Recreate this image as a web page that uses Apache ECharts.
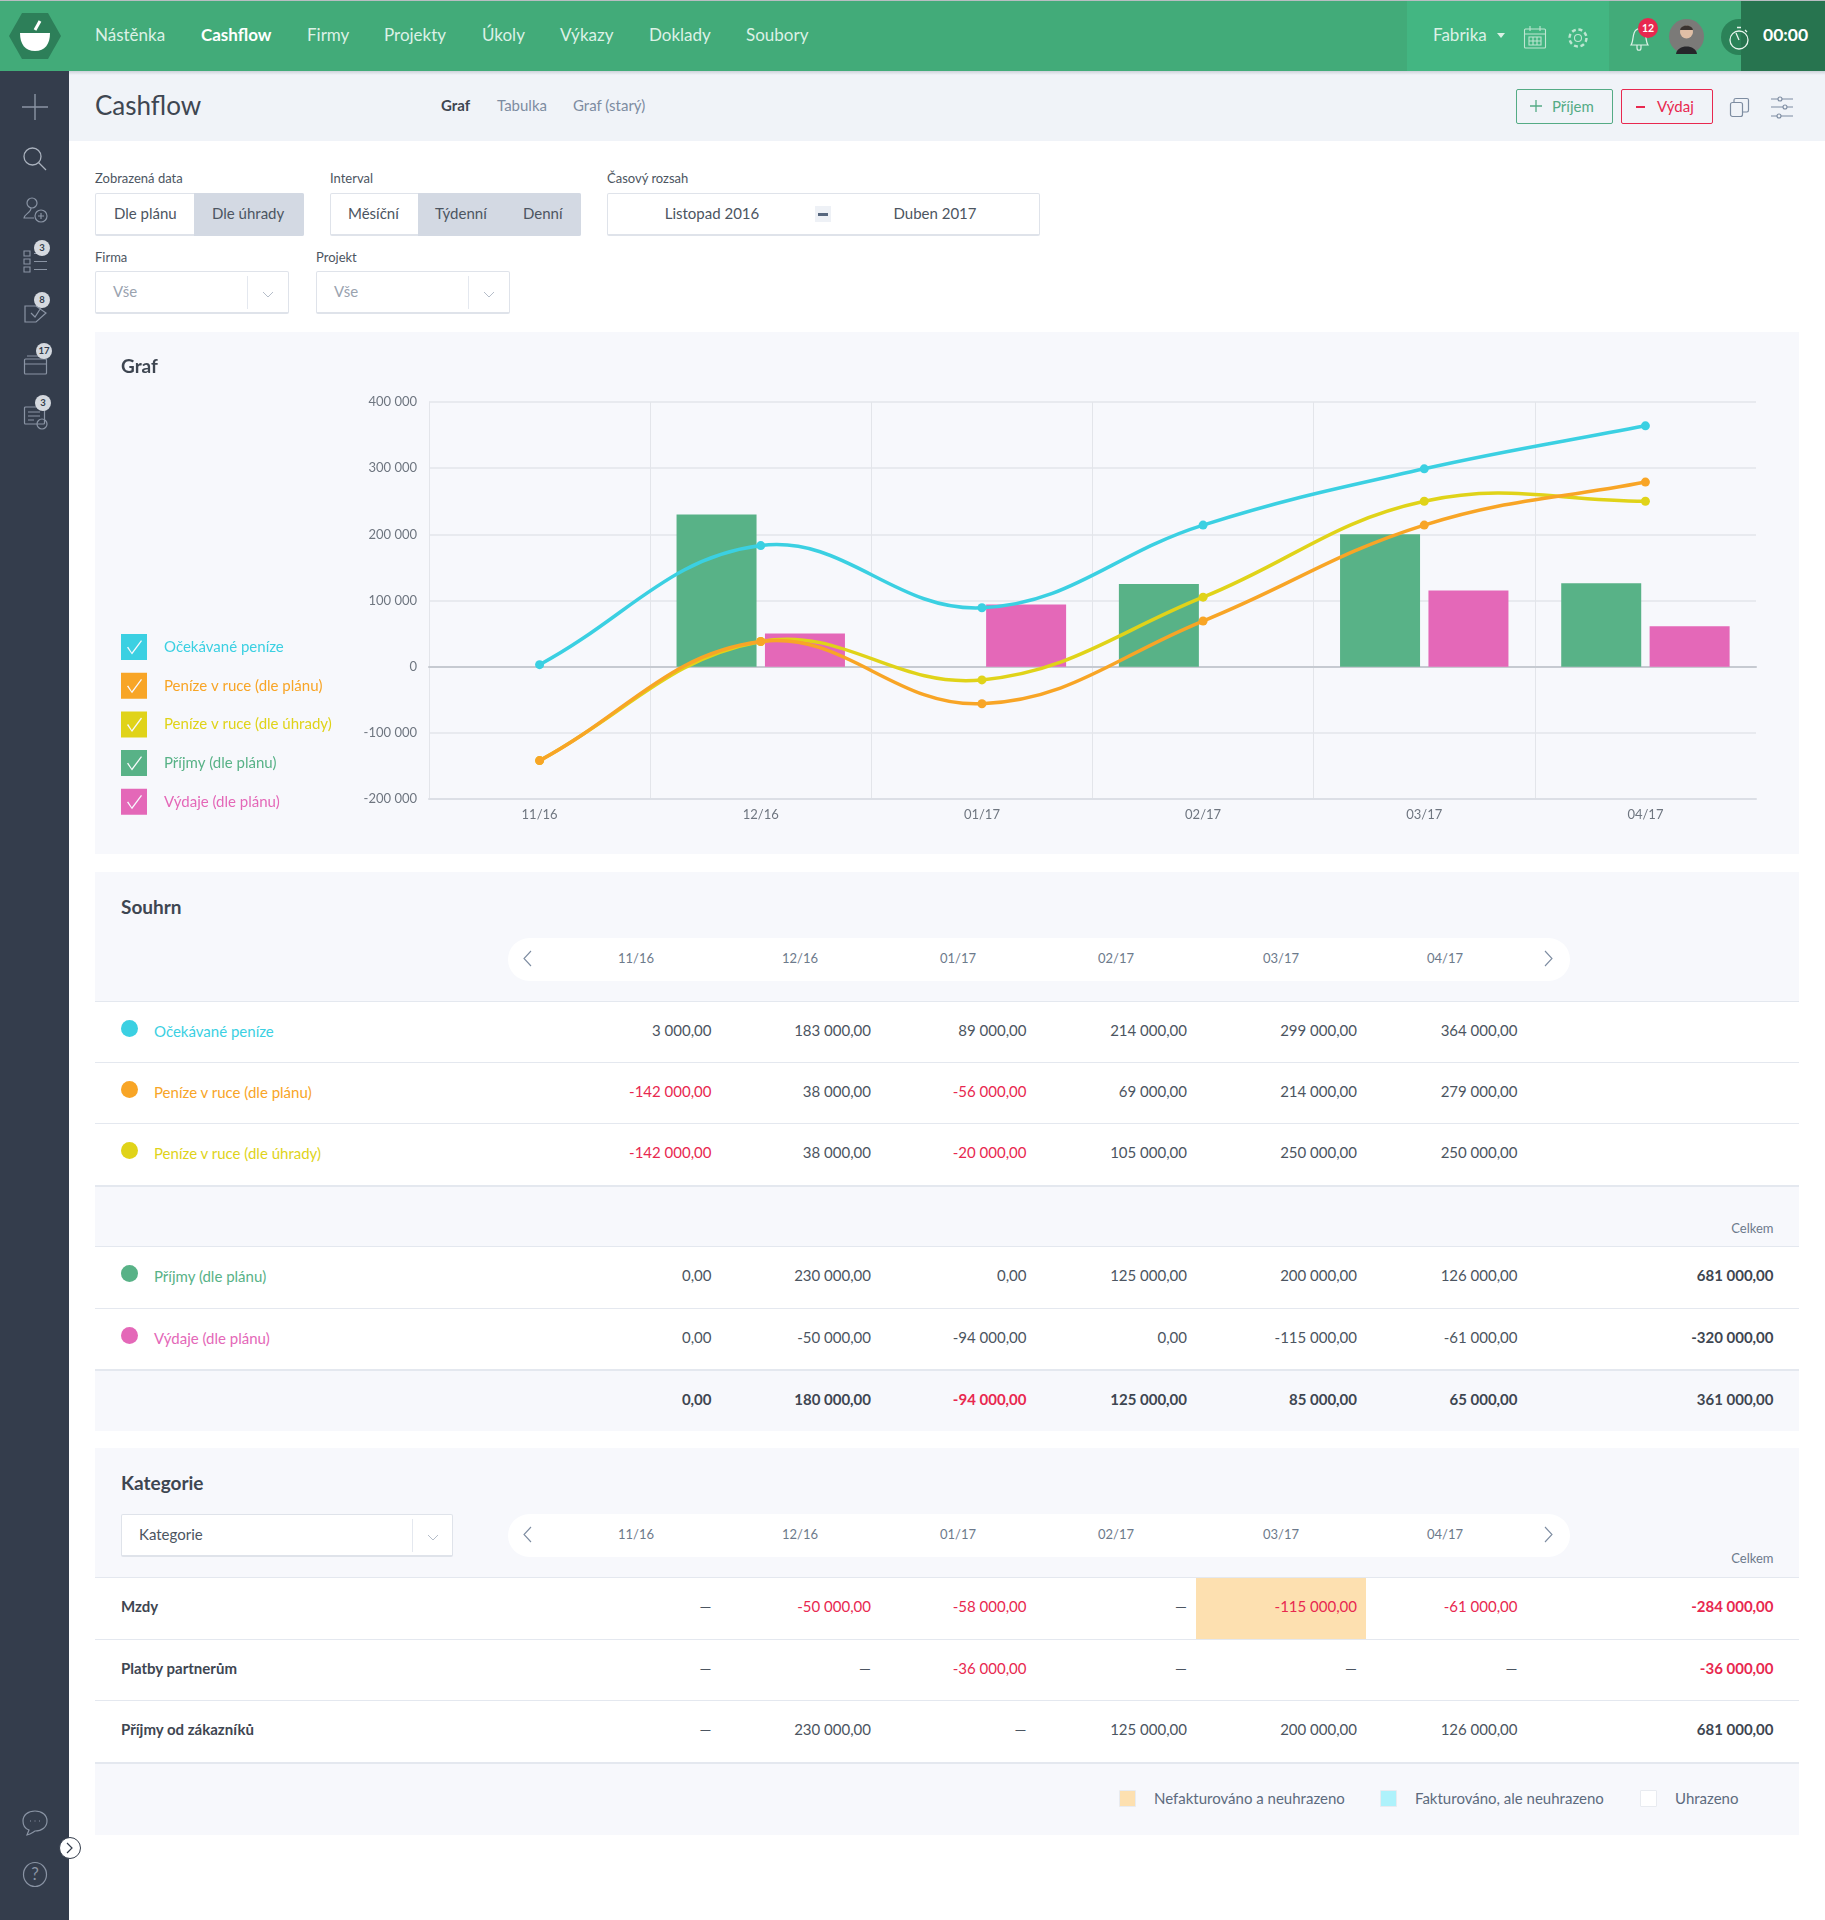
<!DOCTYPE html>
<html lang="cs">
<head>
<meta charset="utf-8">
<title>Cashflow</title>
<script src="https://cdn.jsdelivr.net/npm/echarts@6/dist/echarts.min.js"></script>
<style>
html, body { margin: 0; padding: 0; background: #fff; }
body { width: 1825px; height: 1920px; position: relative; overflow: hidden; font-family: Lato, sans-serif; color: #4c5561; }
.box { position: absolute; box-sizing: border-box; }
.t { position: absolute; white-space: nowrap; line-height: 24px; height: 24px; }
svg { position: absolute; overflow: visible; fill: none; }
#wave-chart { position: absolute; left: 95px; top: 332px; width: 1704px; height: 522px; }
</style>
</head>
<body>
<div id="wave-chart"></div>
<script>
const months = ['11/16', '12/16', '01/17', '02/17', '03/17', '04/17'];
const yTicks = [-200000, 400000, 100000];

const ocekavane = [3000, 183000, 89000, 214000, 299000, 364000];
const penizePlan = [-142000, 38000, -56000, 69000, 214000, 279000];
const penizeUhrada = [-142000, 38000, -20000, 105000, 250000, 250000];
const prijmy = [0, 230000, 0, 125000, 200000, 126000];
const vydaje = [0, -50000, -94000, 0, -115000, -61000];
const soucet = [0, 180000, -94000, 125000, 85000, 65000];
const celkemSouhrn = [681000, -320000, 361000];

const mzdy = [null, -50000, -58000, null, -115000, -61000];
const platby = [null, null, -36000, null, null, null];
const prijmyZakaznici = [null, 230000, null, 125000, 200000, 126000];
const celkemKategorie = [-284000, -36000, 681000];

const names = ['Očekávané peníze', 'Peníze v ruce (dle plánu)', 'Peníze v ruce (dle úhrady)', 'Příjmy (dle plánu)', 'Výdaje (dle plánu)'];
const colors = ['#3bd0e2', '#f8a526', '#e0d319', '#58b287', '#e468b8'];

const RED = '#e8284f', DARK = '#3e4651', GREY = '#4c5561', MUTED = '#6d7a8c', PANEL = '#f7f8fc', LINE = '#e4e8ef';
const FS = 15;

// page furniture helpers
function box(x, y, w, h, css) {
  const d = document.createElement('div');
  d.className = 'box';
  d.style.cssText = `left:${x}px;top:${y}px;width:${w}px;height:${h}px;${css || ''}`;
  document.body.appendChild(d);
  return d;
}
function txt(x, yc, s, size, color, opt) {
  opt = opt || {};
  const d = document.createElement('div');
  d.className = 't';
  d.textContent = s;
  const pos = opt.right ? `right:${1825 - x}px` : opt.center ? `left:${x}px;transform:translateX(-50%)` : `left:${x}px`;
  d.style.cssText = `${pos};top:${yc - 12}px;font-size:${size}px;color:${color};font-weight:${opt.weight || 400}`;
  document.body.appendChild(d);
  return d;
}
function icon(x, y, w, h, inner, stroke, sw) {
  const wrap = document.createElement('div');
  wrap.innerHTML = `<svg style="left:${x}px;top:${y}px" width="${w}" height="${h}" viewBox="0 0 ${w} ${h}" stroke="${stroke}" stroke-width="${sw || 1.3}">${inner}</svg>`;
  document.body.appendChild(wrap.firstChild);
}
function badge(cx, cy, s, bg, color) {
  box(cx - 8, cy - 8, 16, 16, `border-radius:50%;background:${bg}`);
  txt(cx, cy, s, 9.5, color, { center: true, weight: 700 });
}

// top bar and side bar
box(0, 71, 1825, 5, 'background:linear-gradient(#c4c9d2,#f0f3f8)');
box(69, 71, 1756, 70, 'background:#f0f3f8');
box(69, 71, 1756, 4, 'background:linear-gradient(#cdd2da,#f0f3f8)');
box(0, 71, 69, 1849, 'background:#343d4c');
box(0, 1, 1825, 70, 'background:#42ab79');
box(0, 0, 1825, 1, 'background:#b9bdc2');
box(1407, 1, 202, 70, 'background:#43b682');
box(1721, 19, 40, 36, 'background:#2b8258;border-radius:18px');
box(1741, 1, 84, 70, 'background:#27744f');

icon(9, 13, 52, 46, '<path d="M13 0H39L52 23L39 46H13L0 23Z" fill="#2d7f59" stroke="none"/><path d="M11 20H41C41 31 36 38 26 38C16 38 11 31 11 20Z" fill="#fff" stroke="none"/><path d="M26 17L31 8" stroke="#fff" stroke-width="3"/>', 'none');

const navItems = [['Nástěnka', 95], ['Cashflow', 201], ['Firmy', 307], ['Projekty', 384], ['Úkoly', 482], ['Výkazy', 560], ['Doklady', 649], ['Soubory', 746]];
navItems.forEach(n => txt(n[1], 35, n[0], 17, n[0] === 'Cashflow' ? '#fff' : '#dcf1e6', { weight: n[0] === 'Cashflow' ? 700 : 400 }));
txt(1433, 35, 'Fabrika', 17, '#dcf1e6');
icon(1497, 33, 8, 5, '<path d="M0 0H8L4 5Z" fill="#dcf1e6" stroke="none"/>', 'none');
icon(1524, 26, 22, 23, '<rect x="0.5" y="3" width="21" height="19" rx="1"/><path d="M0.5 8H21.5M6 0V5M16 0V5M5 11H17V19H5ZM9 11V19M13 11V19M5 15H17"/>', '#bfe6d2', 1.1);
icon(1567, 27, 22, 22, '<circle cx="11" cy="11" r="3.5"/><circle cx="11" cy="11" r="8.5" stroke-dasharray="4 2.7" stroke-width="2.4"/>', '#bfe6d2', 1.1);
icon(1628, 26, 22, 26, '<path d="M3 19C6 15 4 7 8 4C10 2 13 2 15 4C19 7 17 15 20 19ZM9 19V22C9 25 13 25 13 22V19"/>', '#dcf1e6', 1.2);
box(1638, 18, 20, 20, `border-radius:50%;background:${RED}`);
txt(1648, 28, '12', 10.5, '#fff', { center: true, weight: 700 });
icon(1669, 19, 35, 35, '<ellipse cx="17.5" cy="17.5" rx="17.5" ry="17.5" fill="#7b7a78" stroke="none"/><circle cx="17.5" cy="13" r="6.5" fill="#e0bfa6" stroke="none"/><path d="M7 35C8 25 27 25 28 35Z" fill="#26262a" stroke="none"/><path d="M11 11C12 5 23 5 24 11Z" fill="#3a3330" stroke="none"/>', 'none');
icon(1729, 26, 20, 24, '<circle cx="10" cy="14" r="9"/><path d="M10 14L7 7M8 1.5H12M16 4L18 6"/>', '#e6f4ec', 1.3);
txt(1763, 35, '00:00', 17.5, '#fff', { weight: 700 });

icon(22, 94, 26, 26, '<path d="M13 0V26M0 13H26"/>', '#8a94a4', 1.4);
icon(23, 147, 24, 24, '<circle cx="9.5" cy="9.5" r="8.5"/><path d="M15.5 15.5L23 23"/>', '#aab2be', 1.3);
icon(23, 197, 25, 26, '<circle cx="9" cy="6" r="5"/><path d="M8 11C8 16 1 17 1 21H11"/><circle cx="18" cy="19" r="6"/><path d="M18 16V22M15 19H21"/>', '#8a94a4', 1.2);
icon(24, 250, 24, 26, '<path d="M0 1H6V6H0ZM0 9H6V14H0ZM0 17H6V22H0ZM10 19.5H23M10 11.5H23M10 3.5H23"/>', '#8a94a4', 1.1);
icon(24, 300, 23, 24, '<path d="M1 6H12L22 13L12 22H1ZM7 13L11 17L20 3"/>', '#8a94a4', 1.2);
icon(24, 354, 24, 21, '<rect x="0.5" y="5" width="22" height="15" rx="1"/><path d="M0.5 10H22.5M3 2H20"/>', '#8a94a4', 1.2);
icon(24, 406, 24, 24, '<rect x="0.5" y="1" width="20" height="17" rx="1"/><path d="M4 6H16M4 10H16M4 14H10"/><circle cx="18" cy="18" r="5"/>', '#8a94a4', 1.2);
badge(42, 248, '3', '#d5d9df', '#343d4c');
badge(42, 300, '8', '#d5d9df', '#343d4c');
badge(44, 351, '17', '#d5d9df', '#343d4c');
badge(43, 403, '3', '#d5d9df', '#343d4c');
icon(23, 1810, 24, 26, '<path d="M12 1C5 1 0 5 0 11C0 16 3 19 6 20L4 25C8 24 10 22 12 21C19 21 24 17 24 11C24 5 19 1 12 1Z"/><path d="M7 11H8M11.5 11H12.5M16 11H17"/>', '#8a94a4', 1.2);
icon(23, 1862, 24, 25, '<ellipse cx="12" cy="12.5" rx="11.5" ry="12"/>', '#8a94a4', 1.2);
txt(35, 1874, '?', 17, '#8a94a4', { center: true });
box(59, 1837, 22, 22, 'border-radius:50%;background:#fff;border:1px solid #343d4c');
icon(67, 1843, 6, 10, '<path d="M0 0L5 5L0 10"/>', '#343d4c', 1.2);

// sub header
txt(95, 105, 'Cashflow', 26, DARK);
txt(441, 105, 'Graf', FS, DARK, { weight: 700 });
txt(497, 105, 'Tabulka', FS, '#7d8ca1');
txt(573, 105, 'Graf (starý)', FS, '#7d8ca1');
box(1516, 89, 97, 35, 'border:1.5px solid #54ab85;border-radius:2px');
icon(1530, 100, 12, 12, '<path d="M6 0V12M0 6H12"/>', '#54ab85', 1.3);
txt(1552, 106, 'Příjem', FS, '#54ab85');
box(1621, 89, 92, 35, `border:1.5px solid ${RED};border-radius:2px`);
icon(1636, 106, 9, 2, '<path d="M0 1H9"/>', RED, 2);
txt(1657, 106, 'Výdaj', FS, RED);
icon(1730, 98, 19, 19, '<rect x="0.5" y="4.5" width="12" height="14" rx="2"/><path d="M4 4V2C4 1 5 0.5 6 0.5H17C18 0.5 18.5 1 18.5 2V12C18.5 13 18 14 17 14H13"/>', '#7d8ca1', 1.2);
icon(1771, 96, 22, 23, '<path d="M0 3H22M0 11H22M0 20H22"/><circle cx="9" cy="3" r="2" fill="#f0f3f8"/><circle cx="14" cy="11" r="2" fill="#f0f3f8"/><circle cx="8" cy="20" r="2" fill="#f0f3f8"/>', '#7d8ca1', 1.1);

// filter row
const BORDER = 'border:1px solid #dfe3ea;border-bottom-width:2px;border-radius:2px;background:#fff';
function segmented(x, w, split, items) {
  box(x, 193, w, 43, BORDER);
  box(split, 193, x + w - split, 43, 'background:#d3d9e3;border-radius:0 2px 2px 0');
  items.forEach(i => txt(i[1], 213, i[0], FS, GREY));
}
txt(95, 178, 'Zobrazená data', 13, GREY);
segmented(95, 209, 194, [['Dle plánu', 114], ['Dle úhrady', 212]]);
txt(330, 178, 'Interval', 13, GREY);
segmented(330, 251, 418, [['Měsíční', 348], ['Týdenní', 435], ['Denní', 523]]);
txt(607, 178, 'Časový rozsah', 13, GREY);
box(607, 193, 433, 43, BORDER);
txt(712, 213, 'Listopad 2016', FS, GREY, { center: true });
txt(935, 213, 'Duben 2017', FS, GREY, { center: true });
box(815, 206, 16, 16, 'background:#eef1f6');
box(818, 213, 10, 2.5, 'background:#57677e');

function select(x, y, w, h, label, color, divX) {
  box(x, y, w, h, BORDER);
  box(divX, y + 5, 1, h - 10, 'background:#e4e8ef');
  icon(divX + 16, y + h / 2 - 1, 10, 5, '<path d="M0 0L5 5L10 0"/>', '#b5bdc9', 1);
  txt(x + 18, y + h / 2 - 1.5, label, FS, color);
}
txt(95, 257, 'Firma', 13, GREY);
select(95, 271, 194, 43, 'Vše', '#9aa3af', 247);
txt(316, 257, 'Projekt', 13, GREY);
select(316, 271, 194, 43, 'Vše', '#9aa3af', 468);

// tables
const monthX = [636, 800, 958, 1116, 1281, 1445];
const valueX = [711.5, 871, 1026.5, 1187, 1357, 1517.5];
const TOTAL_X = 1773.5;

function money(v) {
  const a = Math.abs(v).toString().replace(/\B(?=(\d{3})+$)/g, ' ');
  return (v < 0 ? '-' : '') + a + ',00';
}
function pill(y) {
  box(508, y, 1062, 43, 'background:#fff;border-radius:22px');
  months.forEach((m, i) => txt(monthX[i], y + 20, m, 13, MUTED, { center: true }));
  icon(524, y + 13, 7, 15, '<path d="M7 0L0 7.5L7 15"/>', '#7d8ca1', 1.1);
  icon(1545, y + 13, 7, 15, '<path d="M0 0L7 7.5L0 15"/>', '#7d8ca1', 1.1);
}
function valueCells(values, yc, opt) {
  values.forEach((v, i) => {
    if (v === null) { txt(valueX[i], yc, '—', FS, GREY, { right: true }); return; }
    const neg = v < 0 && opt.red;
    txt(valueX[i], yc, money(v), FS, neg ? RED : (opt.bold ? DARK : GREY), { right: true, weight: opt.bold ? 700 : 400 });
  });
}

box(95, 872, 1704, 559, `background:${PANEL}`);
txt(121, 907, 'Souhrn', 19, DARK, { weight: 700 });
pill(938);
const souhrnRows = [
  [1001, 1062, 0, ocekavane, true],
  [1062, 1123, 1, penizePlan, true],
  [1123, 1185, 2, penizeUhrada, true],
  [1246, 1308, 3, prijmy, false],
  [1308, 1369, 4, vydaje, false]
];
souhrnRows.forEach(r => {
  box(95, r[0], 1704, r[1] - r[0], `background:#fff;border-top:1.5px solid ${LINE}`);
  const yc = r[0] + 29;
  box(121, yc - 10, 17, 17, `border-radius:50%;background:${colors[r[2]]}`);
  txt(154, yc + 1, names[r[2]], FS, colors[r[2]]);
  valueCells(r[3], yc, { red: r[4] });
});
box(95, 1185, 1704, 1.5, `background:${LINE}`);
box(95, 1369, 1704, 1.5, `background:${LINE}`);
txt(TOTAL_X, 1228, 'Celkem', 13, MUTED, { right: true });
txt(TOTAL_X, 1275, money(celkemSouhrn[0]), FS, DARK, { right: true, weight: 700 });
txt(TOTAL_X, 1337, money(celkemSouhrn[1]), FS, DARK, { right: true, weight: 700 });
valueCells(soucet, 1399, { red: true, bold: true });
txt(TOTAL_X, 1399, money(celkemSouhrn[2]), FS, DARK, { right: true, weight: 700 });

box(95, 1448, 1704, 387, `background:${PANEL}`);
txt(121, 1483, 'Kategorie', 19, DARK, { weight: 700 });
select(121, 1514, 332, 43, 'Kategorie', GREY, 412);
pill(1514);
txt(TOTAL_X, 1558, 'Celkem', 13, MUTED, { right: true });
const kategorieRows = [
  [1577, 1639, 'Mzdy', mzdy, 0],
  [1639, 1700, 'Platby partnerům', platby, 1],
  [1700, 1762, 'Příjmy od zákazníků', prijmyZakaznici, 2]
];
kategorieRows.forEach(r => {
  box(95, r[0], 1704, r[1] - r[0], `background:#fff;border-top:1.5px solid ${LINE}`);
});
box(1196, 1578, 170, 61, 'background:#fde0b0');
kategorieRows.forEach(r => {
  const yc = r[0] + 29;
  txt(121, yc, r[2], FS, DARK, { weight: 700 });
  valueCells(r[3], yc, { red: true });
  txt(TOTAL_X, yc, money(celkemKategorie[r[4]]), FS, celkemKategorie[r[4]] < 0 ? RED : DARK, { right: true, weight: 700 });
});
box(95, 1762, 1704, 2, `background:${LINE}`);
[[1119, '#fde0b0', 'Nefakturováno a neuhrazeno', 1154], [1380, '#aef2fb', 'Fakturováno, ale neuhrazeno', 1415], [1640, '#fff', 'Uhrazeno', 1675]].forEach(l => {
  box(l[0], 1790, 17, 17, `background:${l[1]};border:1px solid #e8ebf0;border-radius:1px`);
  txt(l[3], 1798, l[2], FS, '#5d6b7e');
});

// chart
const checkIcon = 'path://M0 0H26V26H0ZM6 13.5L11 20.5L21 7L20 6.2L10.8 18.5L7.2 12.7Z';
const TENSION = 0.4;

const myChart = echarts.init(document.getElementById('wave-chart'));
function barSeries(i, values) {
  return {
    name: names[i],
    type: 'bar',
    barWidth: 80,
    barGap: '10.5%',
    itemStyle: { color: colors[i] },
    data: values
  };
}
// the curve overshoots its points, which the line series smoothing clamps away,
// so each segment is a bezier worked out from the axis coordinates of the values
function curveSeries(i, values, z) {
  return {
    name: names[i],
    type: 'custom',
    z: z,
    itemStyle: { color: colors[i] },
    encode: { x: 0, y: 1 },
    data: values.map((v, k) => [k, v]),
    renderItem: function (params, api) {
      const k = params.dataIndex;
      if (k === values.length - 1) return null;
      const pts = values.map((v, j) => api.coord([j, v]));
      const cp = j => {
        const p = pts[j], prev = pts[j - 1] || p, next = pts[j + 1] || p;
        const d0 = Math.hypot(p[0] - prev[0], p[1] - prev[1]);
        const d1 = Math.hypot(next[0] - p[0], next[1] - p[1]);
        const sum = d0 + d1;
        const vx = next[0] - prev[0], vy = next[1] - prev[1];
        return {
          before: [p[0] - TENSION * d0 / sum * vx, p[1] - TENSION * d0 / sum * vy],
          after: [p[0] + TENSION * d1 / sum * vx, p[1] + TENSION * d1 / sum * vy]
        };
      };
      return {
        type: 'bezierCurve',
        shape: {
          x1: pts[k][0], y1: pts[k][1],
          x2: pts[k + 1][0], y2: pts[k + 1][1],
          cpx1: cp(k).after[0], cpy1: cp(k).after[1],
          cpx2: cp(k + 1).before[0], cpy2: cp(k + 1).before[1]
        },
        style: { fill: 'none', stroke: colors[i], lineWidth: 3.5 }
      };
    }
  };
}
function pointSeries(i, values, z) {
  return {
    name: names[i],
    type: 'line',
    z: z,
    symbol: 'circle',
    symbolSize: 9,
    showAllSymbol: true,
    lineStyle: { width: 0 },
    itemStyle: { color: colors[i] },
    data: values
  };
}
const option = {
  animation: false,
  backgroundColor: PANEL,
  textStyle: { fontFamily: 'Lato' },
  title: {
    text: 'Graf',
    left: 26,
    top: 25,
    padding: 0,
    textStyle: { fontFamily: 'Lato', fontSize: 19, fontWeight: 700, color: DARK }
  },
  legend: {
    orient: 'vertical',
    left: 26,
    top: 302,
    padding: 0,
    itemWidth: 26,
    itemHeight: 26,
    itemGap: 12.7,
    icon: checkIcon,
    itemStyle: { borderWidth: 0 },
    textStyle: { fontSize: FS, padding: [0, 0, 0, 12] },
    data: names.map((n, i) => ({ name: n, textStyle: { color: colors[i] } }))
  },
  grid: { left: 334, right: 43, top: 70, bottom: 55 },
  xAxis: [
    {
      type: 'category',
      data: months,
      position: 'bottom',
      axisLine: { onZero: false, lineStyle: { color: '#dcdfe6', width: 2 } },
      axisTick: { length: 11, lineStyle: { color: '#e3e5ea' } },
      axisLabel: { color: '#6f7680', fontSize: 13, margin: 9 },
      splitLine: { show: true, showMaxLine: false, lineStyle: { color: '#e3e5ea' } }
    },
    {
      type: 'category',
      data: months,
      axisLine: { onZero: true, lineStyle: { color: '#c6cad1', width: 2 } },
      axisTick: { show: false },
      axisLabel: { show: false }
    }
  ],
  yAxis: {
    type: 'value',
    min: yTicks[0],
    max: yTicks[1],
    interval: yTicks[2],
    axisLine: { show: true, onZero: false, lineStyle: { color: '#e3e5ea' } },
    axisTick: { show: false },
    axisLabel: {
      color: '#6f7680',
      fontSize: 13,
      margin: 12,
      padding: [0, 0, 4, 0],
      formatter: v => v.toString().replace(/\B(?=(\d{3})+$)/g, ' ')
    },
    splitLine: { lineStyle: { color: '#e8eaef', width: 2 } }
  },
  series: [
    barSeries(3, prijmy),
    barSeries(4, vydaje.map(Math.abs)),
    curveSeries(2, penizeUhrada, 3),
    pointSeries(2, penizeUhrada, 4),
    curveSeries(1, penizePlan, 5),
    pointSeries(1, penizePlan, 6),
    curveSeries(0, ocekavane, 7),
    pointSeries(0, ocekavane, 8)
  ]
};
myChart.setOption(option);
</script>
</body>
</html>
